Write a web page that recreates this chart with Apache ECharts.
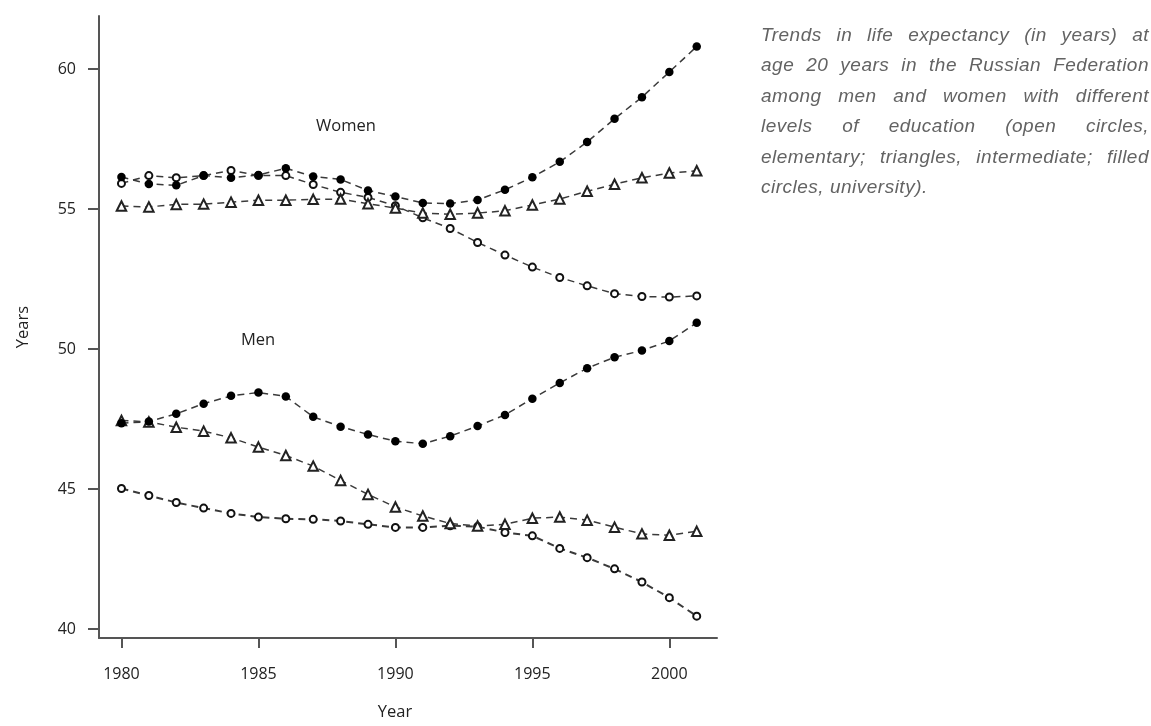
<!DOCTYPE html>
<html>
<head>
<meta charset="utf-8">
<script src="https://cdn.jsdelivr.net/npm/echarts@6/dist/echarts.min.js"></script>
<style>
  html, body { margin: 0; padding: 0; background: #fff; overflow: hidden; }
  #chart { position: absolute; left: 0; top: 0; width: 1151px; height: 726px; }
  #caption {
    position: absolute; left: 761px; top: 20px; width: 388px;
    font-family: "Liberation Sans", "Roboto", sans-serif; font-style: italic; font-weight: 400;
    font-size: 19px; letter-spacing: 0.5px; line-height: 30.4px; color: #636363;
  }
  #caption div { white-space: nowrap; text-align: justify; text-align-last: justify; }
  #caption div.last { text-align: left; text-align-last: left; }
</style>
</head>
<body>
<div id="chart"></div>
<div id="caption">
  <div>Trends in life expectancy (in years) at</div>
  <div>age 20 years in the Russian Federation</div>
  <div>among men and women with different</div>
  <div>levels of education (open circles,</div>
  <div>elementary; triangles, intermediate; filled</div>
  <div class="last">circles, university).</div>
</div>
<script>
const years = [1980,1981,1982,1983,1984,1985,1986,1987,1988,1989,1990,1991,1992,1993,1994,1995,1996,1997,1998,1999,2000,2001];
const xTicks = [1980,1985,1990,1995,2000];
const yTicks = [40,45,50,55,60];

const menUniversity   = [47.35,47.41,47.69,48.05,48.33,48.45,48.31,47.58,47.23,46.95,46.71,46.62,46.89,47.25,47.65,48.23,48.79,49.32,49.71,49.95,50.29,50.94];
const menIntermediate = [47.45,47.40,47.21,47.07,46.83,46.50,46.20,45.82,45.31,44.81,44.36,44.04,43.77,43.68,43.74,43.96,44.00,43.89,43.64,43.40,43.35,43.49];
const menElementary   = [45.02,44.77,44.52,44.32,44.13,44.00,43.94,43.92,43.86,43.74,43.63,43.63,43.69,43.66,43.45,43.33,42.88,42.55,42.15,41.68,41.12,40.46];
const womenUniversity   = [56.15,55.90,55.85,56.20,56.12,56.22,56.46,56.17,56.06,55.67,55.45,55.22,55.20,55.33,55.69,56.14,56.69,57.40,58.23,59.00,59.90,60.81];
const womenIntermediate = [55.11,55.08,55.17,55.18,55.25,55.32,55.32,55.35,55.36,55.19,55.04,54.86,54.82,54.86,54.94,55.15,55.36,55.64,55.89,56.12,56.29,56.37];
const womenElementary   = [55.92,56.20,56.12,56.20,56.38,56.20,56.20,55.88,55.60,55.42,55.12,54.69,54.31,53.81,53.36,52.93,52.56,52.26,51.98,51.88,51.86,51.90];

const pairs = arr => years.map((y, i) => [y, arr[i]]);

function series(name, arr, kind, lw) {
  const base = {
    name, type: 'line', data: pairs(arr), silent: true, animation: false,
    lineStyle: { color: '#3a3a3a', width: lw || 1.5, type: [7, 5] },
    z: kind === 'filled' ? 4 : (kind === 'tri' ? 3 : 2)
  };
  if (kind === 'filled') {
    base.symbol = 'circle'; base.symbolSize = 8.5;
    base.itemStyle = { color: '#000', borderWidth: 0 };
  } else if (kind === 'open') {
    base.symbol = 'emptyCircle'; base.symbolSize = 7;
    base.itemStyle = { color: '#111', borderColor: '#111', borderWidth: lw && lw > 1.6 ? 2 : 1.4 };
  } else {
    base.symbol = 'emptyTriangle'; base.symbolSize = 9.5;
    base.itemStyle = { color: '#222', borderColor: '#222', borderWidth: 1.3 };
  }
  return base;
}

const chart = echarts.init(document.getElementById('chart'), null, { renderer: 'canvas' });
const labelFont = { fontFamily: 'Open Sans', fontSize: 16, color: '#222' };
chart.setOption({
  animation: false,
  grid: { left: 99, right: 434, top: 16, bottom: 88, containLabel: false, outerBoundsMode: 'none' },
  xAxis: {
    type: 'value', min: 1979.18, max: 2001.74,
    name: 'Year', nameLocation: 'middle', nameGap: 66,
    nameTextStyle: { fontFamily: 'Open Sans', fontSize: 16.5, color: '#222', padding: [0, 26, 0, 0] },
    axisLine: { show: true, lineStyle: { color: '#555', width: 2 } },
    axisTick: { show: true, length: 10, lineStyle: { color: '#555', width: 2 }, customValues: xTicks },
    axisLabel: { ...labelFont, margin: 28, customValues: xTicks, formatter: v => String(v) },
    splitLine: { show: false }
  },
  yAxis: {
    type: 'value', min: 39.68, max: 61.9,
    name: 'Years', nameLocation: 'middle', nameGap: 67, nameRotate: 90,
    nameTextStyle: { fontFamily: 'Open Sans', fontSize: 16.5, color: '#222' },
    axisLine: { show: true, lineStyle: { color: '#555', width: 2 } },
    axisTick: { show: true, length: 11, lineStyle: { color: '#555', width: 2 }, customValues: yTicks },
    axisLabel: { ...labelFont, margin: 23, customValues: yTicks, formatter: v => String(v) },
    splitLine: { show: false }
  },
  graphic: [
    { type: 'text', left: 316, top: 118, style: { text: 'Women', fontFamily: 'Open Sans', fontSize: 16.5, fill: '#222' } },
    { type: 'text', left: 241, top: 332, style: { text: 'Men', fontFamily: 'Open Sans', fontSize: 16.5, fill: '#222' } }
  ],
  series: [
    series('Women elementary', womenElementary, 'open'),
    series('Women intermediate', womenIntermediate, 'tri'),
    series('Women university', womenUniversity, 'filled'),
    series('Men elementary', menElementary, 'open', 2),
    series('Men intermediate', menIntermediate, 'tri'),
    series('Men university', menUniversity, 'filled')
  ]
});
</script>
</body>
</html>
